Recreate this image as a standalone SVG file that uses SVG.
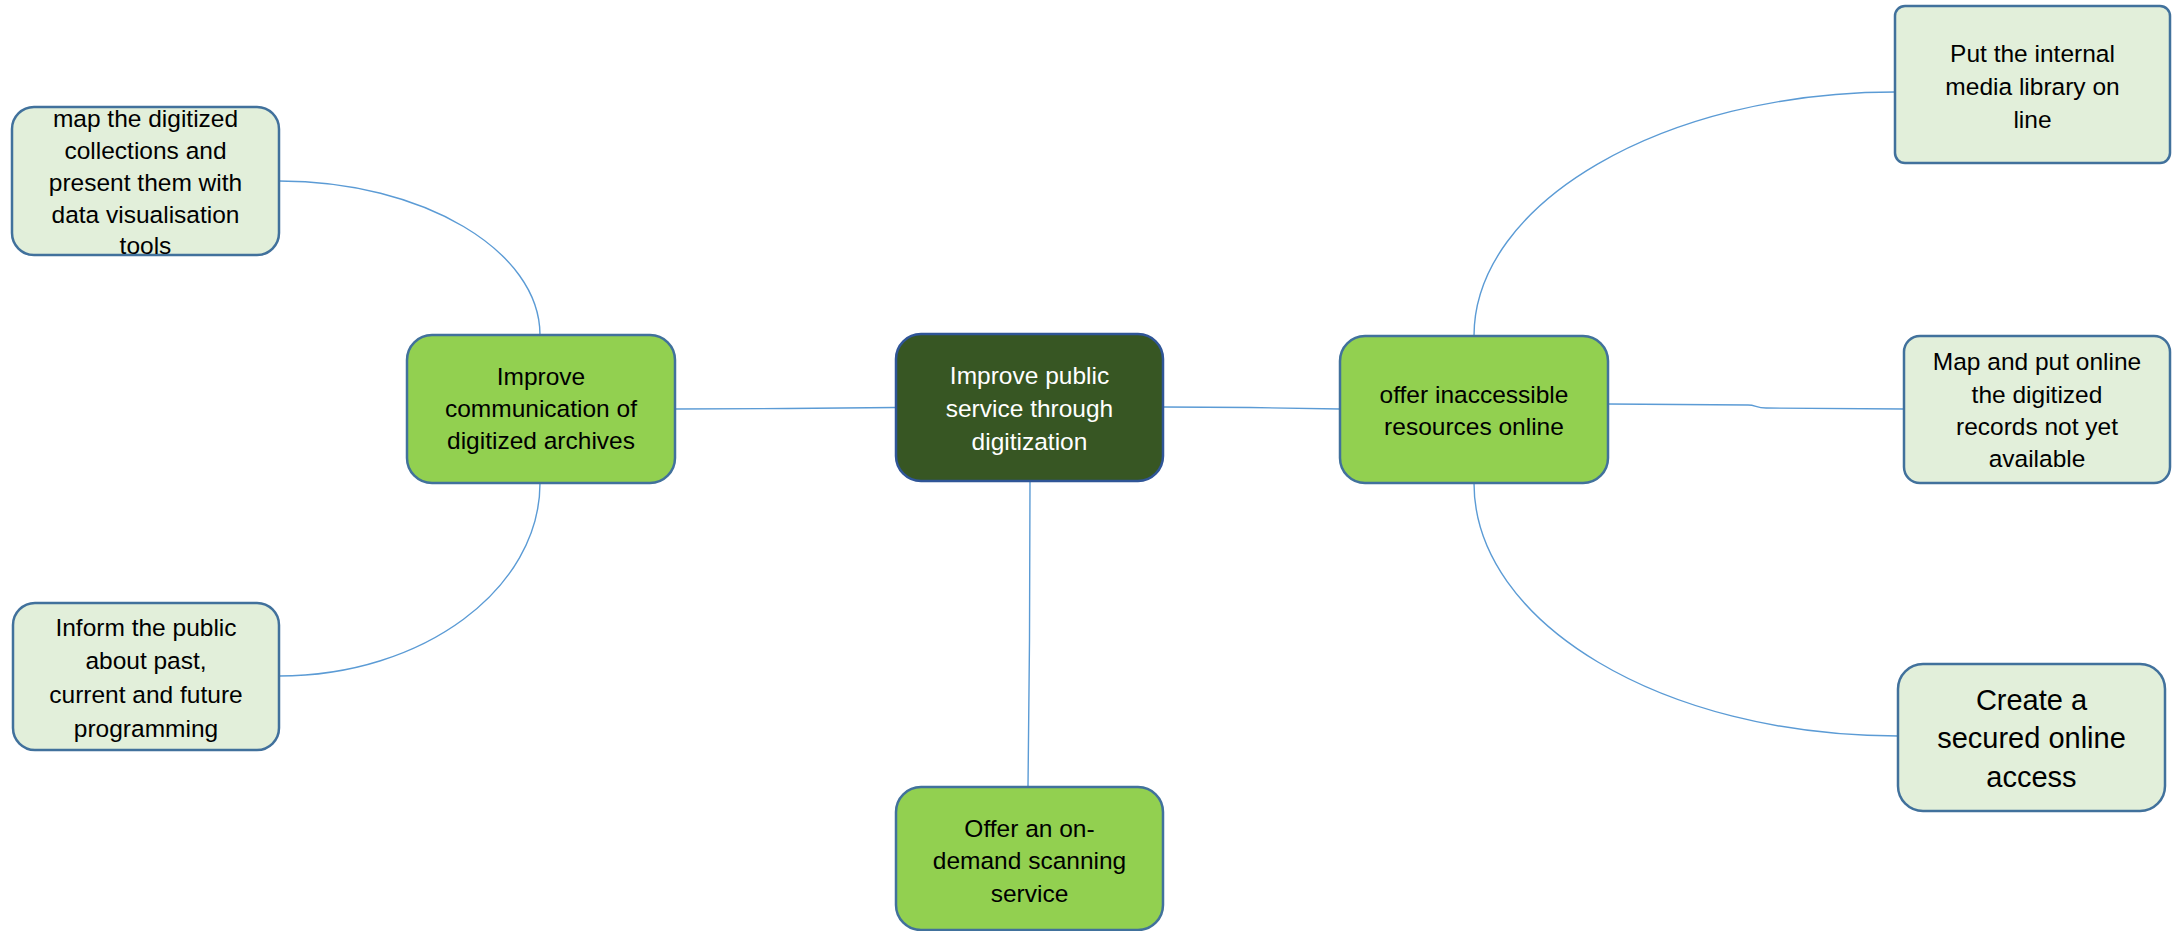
<svg xmlns="http://www.w3.org/2000/svg" width="2178" height="931" viewBox="0 0 2178 931">
<style>
.sub{fill:#E2EFDA;stroke:#41719C;stroke-width:2.5}
.mid{fill:#92D050;stroke:#41719C;stroke-width:2.5}
.root{fill:#375623;stroke:#2F5597;stroke-width:2.5}
text{font-family:"Liberation Sans",Arial,sans-serif;font-size:24.5px;fill:#000;text-anchor:middle}
.w{fill:#fff}
.big{font-size:29px}
.c{fill:none;stroke:#5B9BD5;stroke-width:1.4}
</style>
<rect width="2178" height="931" fill="#fff"/>
<g id="connectors">
<path class="c" d="M675,409 L787,408.5 L896,407.5"/>
<path class="c" d="M1163,407 L1250,407.5 L1340,409"/>
<path class="c" d="M1030,481 L1029.5,640 L1028,787"/>
<path class="c" d="M540,335 C540,251 423,181 279,181"/>
<path class="c" d="M540,483 C540,589 423,676 279,676"/>
<path class="c" d="M1474,336 C1474,203 1663,92 1895,92"/>
<path class="c" d="M1608,404 L1748,405 C1756,405 1756,408 1766,408 L1904,409"/>
<path class="c" d="M1474,483 C1474,623 1663,736 1898,736"/>
</g>
<g id="root">
<rect class="root" x="896" y="334" width="267" height="147" rx="25"/>
<text class="w" x="1029.5" y="384">Improve public</text>
<text class="w" x="1029.5" y="417">service through</text>
<text class="w" x="1029.5" y="450">digitization</text>
</g>
<g id="improve-communication">
<rect class="mid" x="407" y="335" width="268" height="148" rx="25"/>
<text x="541" y="385">Improve</text>
<text x="541" y="417">communication of</text>
<text x="541" y="449">digitized archives</text>
</g>
<g id="offer-inaccessible">
<rect class="mid" x="1340" y="336" width="268" height="147" rx="25"/>
<text x="1474" y="403">offer inaccessible</text>
<text x="1474" y="435">resources online</text>
</g>
<g id="offer-scanning">
<rect class="mid" x="896" y="787" width="267" height="143" rx="25"/>
<text x="1029.5" y="837">Offer an on-</text>
<text x="1029.5" y="869">demand scanning</text>
<text x="1029.5" y="902">service</text>
</g>
<g id="map-digitized">
<rect class="sub" x="12" y="107" width="267" height="148" rx="22"/>
<text x="145.5" y="127">map the digitized</text>
<text x="145.5" y="159">collections and</text>
<text x="145.5" y="191">present them with</text>
<text x="145.5" y="223">data visualisation</text>
<text x="145.5" y="254">tools</text>
</g>
<g id="inform-public">
<rect class="sub" x="13" y="603" width="266" height="147" rx="22"/>
<text x="146" y="636">Inform the public</text>
<text x="146" y="669">about past,</text>
<text x="146" y="703">current and future</text>
<text x="146" y="737">programming</text>
</g>
<g id="media-library">
<rect class="sub" x="1895" y="6" width="275" height="157" rx="10"/>
<text x="2032.5" y="62">Put the internal</text>
<text x="2032.5" y="95">media library on</text>
<text x="2032.5" y="128">line</text>
</g>
<g id="map-records">
<rect class="sub" x="1904" y="336" width="266" height="147" rx="16"/>
<text x="2037" y="370">Map and put online</text>
<text x="2037" y="403">the digitized</text>
<text x="2037" y="435">records not yet</text>
<text x="2037" y="467">available</text>
</g>
<g id="secured-access">
<rect class="sub" x="1898" y="664" width="267" height="147" rx="25"/>
<text class="big" x="2031.5" y="710">Create a</text>
<text class="big" x="2031.5" y="748">secured online</text>
<text class="big" x="2031.5" y="787">access</text>
</g>
</svg>
